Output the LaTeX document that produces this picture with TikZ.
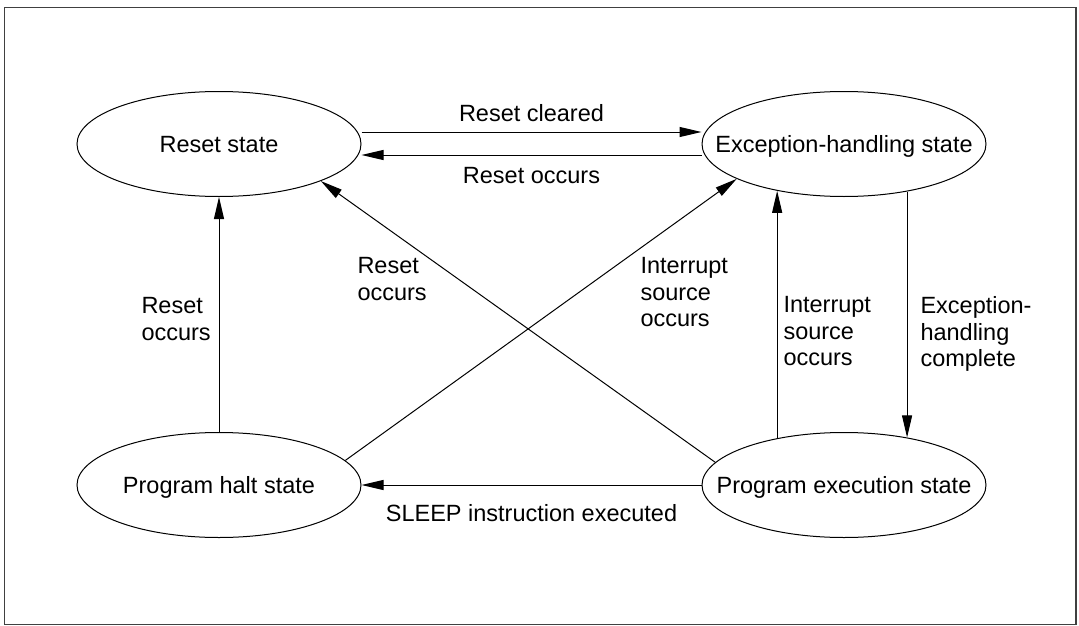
\documentclass[tikz,border=0pt]{standalone}
\usepackage{fontspec}
\setmainfont{Liberation Sans}
\usetikzlibrary{shapes.geometric,arrows.meta,positioning}

\begin{document}
\begin{tikzpicture}[x=1pt,y=-1pt,>={Triangle[length=22pt,width=10pt]},node distance=625pt,on grid,line width=1pt,
	font=\fontsize{23.5}{26.5}\selectfont]
	\tikzstyle{state}=[ellipse,draw,minimum width=284pt,minimum height=105pt,inner xsep=-60pt,inner ysep=0pt,text height=17pt,text depth=1pt]
	\tikzstyle{lbl}=[inner sep=0pt,align=left]

	\useasboundingbox (0,0) rectangle (1079,626);
	\draw[line width=1.5pt,black!75] (4.5,7.5) rectangle (1076,624.5);

	\node[state] (RESET) at (219,144) {Reset state};
	\node[state] (EXC) [right=of RESET] {Exception-handling state};
	\node[state] (HALT) [below=341pt of RESET] {Program halt state};
	\node[state] (EXEC) [right=of HALT] {Program execution state};

	\path[->]	([yshift=12pt]RESET.east) edge node[lbl,above=10pt] {Reset cleared} ([yshift=12pt]EXC.west)
				([yshift=-11pt]EXC.west) edge node[lbl,below=12pt] {Reset occurs} ([yshift=-11pt]RESET.east)
				(HALT) edge (RESET)
				(EXEC.170) edge (RESET.-20)
				(HALT.11) edge (EXC.198)
				(EXEC.145) edge (EXC.215)
				(EXC.-37) edge (EXEC.37)
				(EXEC) edge node[lbl,below=19pt] {SLEEP instruction executed} (HALT);

	\node[lbl,anchor=north west] (RESET_L) at (141,297) {Reset\\occurs};
	\node[lbl,anchor=north west] (RESET_X) at (357,257) {Reset\\occurs};
	\node[lbl,anchor=north west] (INT_X) at (640,257) {Interrupt\\source\\occurs};
	\node[lbl,anchor=north west] (INT_R) at (783,296) {Interrupt\\source\\occurs};
	\node[lbl,anchor=north west] (EXC_DONE) at (920,296) {Exception-\\handling\\complete};
\end{tikzpicture}
\end{document}
